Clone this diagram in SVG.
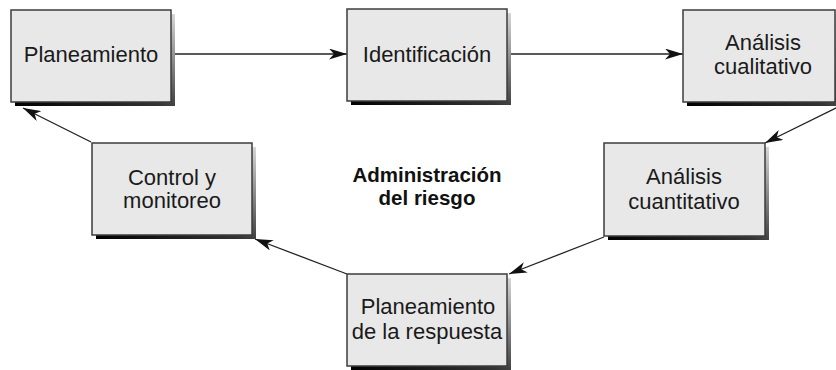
<svg xmlns="http://www.w3.org/2000/svg" width="836" height="370" viewBox="0 0 836 370">
<defs>
<linearGradient id="sh" x1="0" y1="1" x2="1" y2="0">
<stop offset="0" stop-color="#000"/>
<stop offset="0.45" stop-color="#333"/>
<stop offset="1" stop-color="#d8d8d8"/>
</linearGradient>
<marker id="ah" viewBox="0 0 18 11" refX="18" refY="5.5" markerWidth="18" markerHeight="11" markerUnits="userSpaceOnUse" orient="auto">
<path d="M0,0 L18,5.5 L0,11 L5,5.5 z" fill="#111"/>
</marker>
<style>
.shadow{fill:url(#sh);}
.box{fill:#e8e8e8;stroke:#3c3c3c;stroke-width:1.5;}
.t{font-family:"Liberation Sans",Arial,sans-serif;font-size:22px;fill:#1a1a1a;text-anchor:middle;}
.c{font-family:"Liberation Sans",Arial,sans-serif;font-size:20.5px;font-weight:bold;fill:#111;text-anchor:middle;}
.ln{stroke:#222;stroke-width:1.3;fill:none;marker-end:url(#ah);}
</style>
</defs>
<rect width="836" height="370" fill="#fff"/>
<g id="connectors">
<line class="ln" x1="171" y1="54" x2="347" y2="54"/>
<line class="ln" x1="507" y1="54" x2="683" y2="54"/>
<line class="ln" x1="850" y1="101" x2="765" y2="143"/>
<line class="ln" x1="604" y1="237" x2="509" y2="274"/>
<line class="ln" x1="347" y1="274" x2="255" y2="239"/>
<line class="ln" x1="91" y1="142" x2="23" y2="108"/>
</g>
<g id="planeamiento">
<rect class="shadow" x="15" y="14" width="160" height="92"/>
<rect class="box" x="11" y="10" width="160" height="92"/>
<text class="t" x="91" y="62">Planeamiento</text>
</g>
<g id="identificacion">
<rect class="shadow" x="351" y="13" width="160" height="92"/>
<rect class="box" x="347" y="9" width="160" height="92"/>
<text class="t" x="427" y="62">Identificación</text>
</g>
<g id="analisis-cualitativo">
<rect class="shadow" x="687" y="14" width="152" height="92"/>
<rect class="box" x="683" y="10" width="152" height="92"/>
<text class="t" x="763" y="50">Análisis</text>
<text class="t" x="763" y="74">cualitativo</text>
</g>
<g id="control-monitoreo">
<rect class="shadow" x="96" y="147" width="160" height="92"/>
<rect class="box" x="92" y="143" width="160" height="92"/>
<text class="t" x="172" y="185">Control y</text>
<text class="t" x="172" y="208">monitoreo</text>
</g>
<g id="analisis-cuantitativo">
<rect class="shadow" x="608" y="147" width="161" height="93"/>
<rect class="box" x="604" y="143" width="161" height="93"/>
<text class="t" x="684" y="184">Análisis</text>
<text class="t" x="684" y="209">cuantitativo</text>
</g>
<g id="planeamiento-respuesta">
<rect class="shadow" x="351" y="278" width="160" height="92"/>
<rect class="box" x="347" y="274" width="160" height="92"/>
<text class="t" x="428" y="314">Planeamiento</text>
<text class="t" x="427" y="339">de la respuesta</text>
</g>
<g id="centro">
<text class="c" x="427" y="182">Administración</text>
<text class="c" x="427" y="205">del riesgo</text>
</g>
</svg>
